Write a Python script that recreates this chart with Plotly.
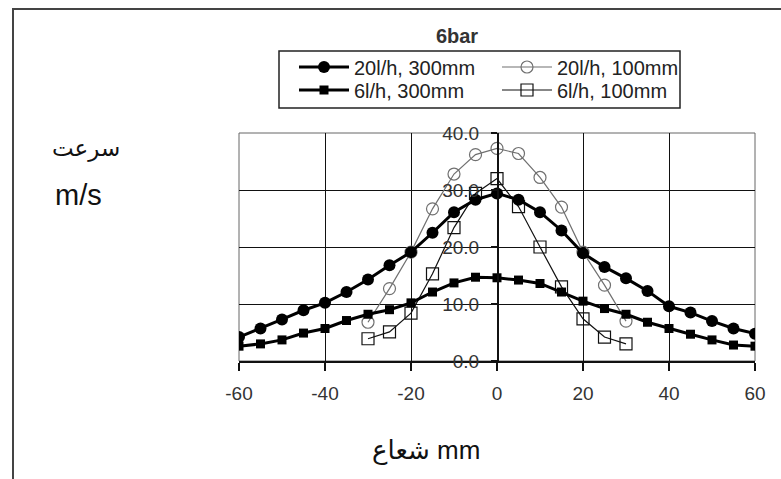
import plotly.graph_objects as go

# ---- data ----
x_300 = [-60, -55, -50, -45, -40, -35, -30, -25, -20, -15, -10, -5, 0,
         5, 10, 15, 20, 25, 30, 35, 40, 45, 50, 55, 60]
v_20lh_300 = [4.2, 5.7, 7.3, 8.9, 10.2, 12.1, 14.3, 16.8, 19.1, 22.5, 26.1, 28.3, 29.4,
              28.3, 26.1, 22.9, 18.9, 16.5, 14.5, 12.3, 9.6, 8.5, 7.0, 5.7, 4.8]
v_6lh_300 = [2.6, 3.0, 3.7, 4.9, 5.7, 7.1, 8.2, 9.0, 10.2, 12.1, 13.7, 14.7, 14.6,
             14.2, 13.6, 12.1, 10.5, 9.2, 8.2, 6.8, 5.7, 4.7, 3.7, 2.8, 2.6]
x_100 = [-30, -25, -20, -15, -10, -5, 0, 5, 10, 15, 20, 25, 30]
v_20lh_100 = [6.8, 12.7, 19.1, 26.7, 32.8, 36.2, 37.3, 36.4, 32.2, 27.0, 19.1, 13.3, 7.0]
v_6lh_100 = [3.9, 5.1, 8.4, 15.3, 23.4, 29.4, 32.0, 27.1, 20.0, 13.0, 7.4, 4.2, 3.0]

x_ticks = [-60, -40, -20, 0, 20, 40, 60]
y_ticks = [0, 10, 20, 30, 40]
title_text = "6bar"
y_title_1 = "سرعت"
y_title_2 = "m/s"
x_title = "شعاع mm"

FONT = "Liberation Sans, Arial, DejaVu Sans, sans-serif"

# plot-area geometry (pixels) used to place free text
L, R, T, B = 239, 26, 133, 118
W, H = 781, 479
PW, PH = W - L - R, H - T - B


def px(xp):
    return (xp - L) / PW


def py(yp):
    return (H - B - yp) / PH


fig = go.Figure()

fig.add_trace(go.Scatter(
    x=x_100, y=v_20lh_100, name="20l/h, 100mm", mode="lines+markers",
    line=dict(color="#707070", width=1.2),
    marker=dict(symbol="circle-open", size=12, color="#707070", line=dict(width=1.2)),
    legend="legend", legendrank=2))
fig.add_trace(go.Scatter(
    x=x_100, y=v_6lh_100, name="6l/h, 100mm", mode="lines+markers",
    line=dict(color="#111111", width=1.2),
    marker=dict(symbol="square-open", size=12, color="#111111", line=dict(width=1.2)),
    legend="legend2", legendrank=2))
fig.add_trace(go.Scatter(
    x=x_300, y=v_20lh_300, name="20l/h, 300mm", mode="lines+markers",
    line=dict(color="#000000", width=3),
    marker=dict(symbol="circle", size=12, color="#000000"),
    legend="legend", legendrank=1))
fig.add_trace(go.Scatter(
    x=x_300, y=v_6lh_300, name="6l/h, 300mm", mode="lines+markers",
    line=dict(color="#000000", width=3),
    marker=dict(symbol="square", size=9, color="#000000"),
    legend="legend2", legendrank=1))

legend_common = dict(
    orientation="h", xanchor="left", yanchor="middle",
    bgcolor="rgba(0,0,0,0)", borderwidth=0,
    font=dict(size=20, color="#222222", family=FONT),
    entrywidth=138, entrywidthmode="pixels", itemwidth=50,
    traceorder="normal")

fig.update_layout(
    width=W, height=H,
    margin=dict(l=L, r=R, t=T, b=B, pad=0),
    paper_bgcolor="white", plot_bgcolor="rgba(0,0,0,0)",
    font=dict(family=FONT, color="#333333", size=19),
    showlegend=True,
    legend=dict(x=px(294), y=py(67), **legend_common),
    legend2=dict(x=px(294), y=py(90), **legend_common),
    title=dict(text="<b>" + title_text + "</b>", x=457 / W, y=1 - 36 / H,
               xref="container", yref="container", xanchor="center", yanchor="middle",
               font=dict(size=20, color="#333333", family=FONT)),
    xaxis=dict(
        range=[-60, 60], tickvals=x_ticks, ticktext=[str(v) for v in x_ticks],
        showgrid=True, gridcolor="#111111", gridwidth=1,
        zeroline=False, showline=True, linecolor="#111111", linewidth=1.5,
        ticks="outside", ticklen=8, tickcolor="#111111", tickwidth=1.5,
        ticklabelstandoff=6, tickfont=dict(size=19, color="#333333")),
    yaxis=dict(
        range=[0, 40], tickvals=y_ticks, ticktext=[f"{v:.1f}" for v in y_ticks],
        anchor="free", position=px(497.7),
        showgrid=True, gridcolor="#111111", gridwidth=1,
        zeroline=False, showline=True, linecolor="#111111", linewidth=1.5,
        ticks="outside", ticklen=6, tickcolor="#111111", tickwidth=1.5,
        ticklabelstandoff=8, tickfont=dict(size=19, color="#333333")),
)

# outer frame of the picture (only its top and left edges fall inside the view)
fig.add_shape(type="rect", xref="paper", yref="paper",
              x0=px(13), x1=px(800), y0=py(500), y1=py(9),
              line=dict(color="#444444", width=2), fillcolor="rgba(0,0,0,0)",
              layer="below")
# legend box
fig.add_shape(type="rect", xref="paper", yref="paper",
              x0=px(279), x1=px(680), y0=py(108), y1=py(51),
              line=dict(color="#222222", width=1.5), fillcolor="white", layer="below")
# right / top edge of plot area
fig.add_shape(type="rect", xref="paper", yref="paper", x0=0, x1=1, y0=0, y1=1,
              line=dict(color="#666666", width=1), layer="below")

fig.add_annotation(text=y_title_1, xref="paper", yref="paper",
                   x=px(86), y=py(148), xanchor="center", yanchor="middle",
                   showarrow=False,
                   font=dict(size=23, color="#111111", family="DejaVu Sans"))
fig.add_annotation(text=y_title_2, xref="paper", yref="paper",
                   x=px(53), y=py(195), xanchor="left", yanchor="middle",
                   showarrow=False,
                   font=dict(size=29, color="#111111", family=FONT))
fig.add_annotation(text=x_title, xref="paper", yref="paper",
                   x=px(426), y=py(450), xanchor="center", yanchor="middle",
                   showarrow=False,
                   font=dict(size=26, color="#111111", family=FONT))

fig.write_html("out.html")
